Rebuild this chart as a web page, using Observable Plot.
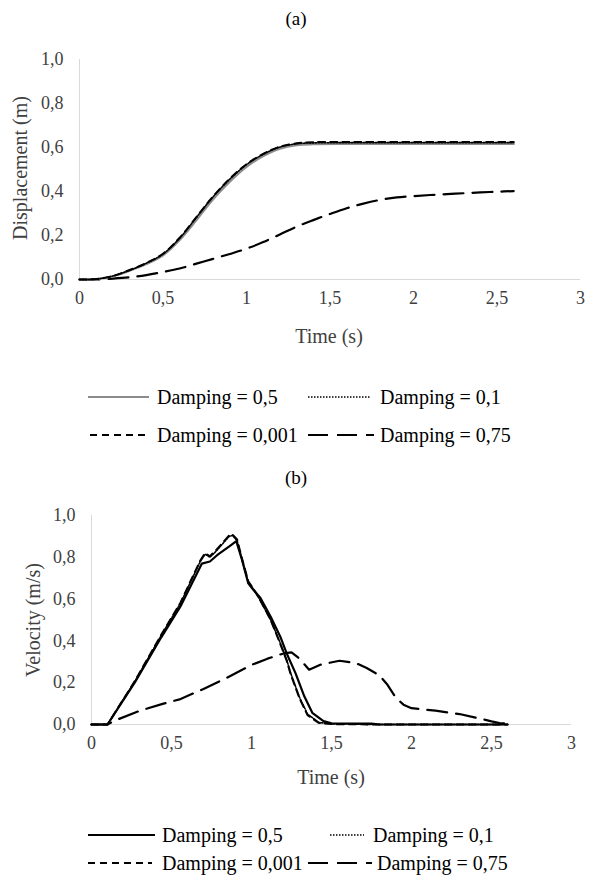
<!DOCTYPE html>
<html>
<head>
<meta charset="utf-8">
<script src="https://cdn.jsdelivr.net/npm/d3@7"></script>
<script src="https://cdn.jsdelivr.net/npm/@observablehq/plot@0.6"></script>
<style>
  html, body { margin: 0; padding: 0; background: #fff; }
  #root { position: relative; width: 598px; height: 882px; background: #fff; font-family: "Liberation Serif", "DejaVu Serif", serif; color: #404040; overflow: hidden; }
  .abs { position: absolute; white-space: nowrap; }
  .ttl { font-size: 19px; color: #000; transform: translate(-50%, -50%); }
  .axt { font-size: 20px; color: #404040; transform: translate(-50%, -50%); }
  .axty { font-size: 20px; color: #404040; transform: translate(-50%, -50%) rotate(-90deg); }
  .leg { font-size: 20px; color: #000; transform: translateY(-50%); }
  svg.sw { position: absolute; overflow: visible; }
  svg text { font-family: "Liberation Serif", "DejaVu Serif", serif; }
</style>
</head>
<body>
<div id="root"></div>
<script>
// ---------- Data ----------
const seriesNames = ["Damping = 0,5", "Damping = 0,1", "Damping = 0,001", "Damping = 0,75"];
const xTicks = [0, 0.5, 1, 1.5, 2, 2.5, 3];
const xTickLabels = ["0", "0,5", "1", "1,5", "2", "2,5", "3"];
const yTicks = [0, 0.2, 0.4, 0.6, 0.8, 1.0];
const yTickLabels = ["0,0", "0,2", "0,4", "0,6", "0,8", "1,0"];

// (a) Displacement (m) vs Time (s)
const dispTime = [0, 0.1, 0.2, 0.3, 0.4, 0.5, 0.6, 0.7, 0.8, 0.9, 1.0, 1.1, 1.2, 1.3, 1.4, 1.6, 1.8, 2.0, 2.2, 2.4, 2.6];
const disp05   = [0, 0.002, 0.015, 0.040, 0.070, 0.110, 0.180, 0.270, 0.365, 0.445, 0.512, 0.561, 0.595, 0.611, 0.615, 0.616, 0.616, 0.616, 0.616, 0.616, 0.616];
const disp01   = [0, 0.002, 0.016, 0.042, 0.074, 0.116, 0.188, 0.282, 0.376, 0.456, 0.522, 0.569, 0.602, 0.617, 0.621, 0.622, 0.622, 0.622, 0.622, 0.622, 0.622];
const disp0001 = [0, 0.002, 0.016, 0.043, 0.075, 0.117, 0.190, 0.284, 0.378, 0.458, 0.524, 0.571, 0.604, 0.619, 0.624, 0.625, 0.625, 0.625, 0.625, 0.625, 0.625];
const dispTime075 = [0, 0.1, 0.2, 0.3, 0.4, 0.5, 0.6, 0.7, 0.8, 0.9, 1.0, 1.1, 1.2, 1.3, 1.4, 1.5, 1.6, 1.7, 1.8, 1.9, 2.0, 2.1, 2.2, 2.3, 2.4, 2.5, 2.6];
const disp075  = [0, 0, 0.004, 0.010, 0.020, 0.034, 0.050, 0.072, 0.094, 0.116, 0.140, 0.170, 0.205, 0.240, 0.270, 0.298, 0.324, 0.345, 0.362, 0.373, 0.379, 0.384, 0.388, 0.392, 0.396, 0.399, 0.402];

// (b) Velocity (m/s) vs Time (s)
const velTime05 = [0, 0.1, 0.27, 0.435, 0.556, 0.69, 0.74, 0.785, 0.87, 0.905, 0.94, 0.98, 1.01, 1.056, 1.12, 1.18, 1.22, 1.275, 1.33, 1.38, 1.45, 1.5, 1.75, 1.8, 2.6];
const vel05     = [0, 0, 0.20, 0.416, 0.565, 0.77, 0.78, 0.81, 0.857, 0.877, 0.79, 0.675, 0.646, 0.605, 0.516, 0.42, 0.34, 0.246, 0.135, 0.056, 0.016, 0.006, 0.004, 0, 0];
const velTime01 = [0, 0.1, 0.27, 0.435, 0.556, 0.68, 0.71, 0.74, 0.78, 0.86, 0.88, 0.91, 0.94, 0.98, 1.01, 1.05, 1.12, 1.18, 1.22, 1.245, 1.3, 1.35, 1.42, 1.5, 1.8, 2.6];
const vel01     = [0, 0, 0.205, 0.425, 0.58, 0.78, 0.815, 0.80, 0.83, 0.90, 0.905, 0.88, 0.79, 0.68, 0.65, 0.60, 0.50, 0.39, 0.31, 0.246, 0.13, 0.05, 0.01, 0.003, 0, 0];
const vel0001   = [0, 0, 0.207, 0.428, 0.583, 0.785, 0.82, 0.805, 0.835, 0.905, 0.91, 0.885, 0.795, 0.685, 0.652, 0.602, 0.50, 0.385, 0.305, 0.24, 0.125, 0.045, 0.008, 0.002, 0, 0];
const velTime075 = [0, 0.1, 0.15, 0.3, 0.45, 0.55, 0.7, 0.85, 1.0, 1.1, 1.2, 1.25, 1.3, 1.36, 1.43, 1.55, 1.65, 1.72, 1.8, 1.85, 1.9, 1.95, 2.0, 2.15, 2.3, 2.4, 2.5, 2.55, 2.6];
const vel075     = [0, 0, 0.02, 0.065, 0.10, 0.12, 0.17, 0.225, 0.285, 0.315, 0.34, 0.345, 0.315, 0.262, 0.286, 0.305, 0.295, 0.27, 0.235, 0.19, 0.13, 0.095, 0.078, 0.066, 0.05, 0.033, 0.015, 0.007, 0.005];

// ---------- Styles ----------
const styleA = [
  {stroke: "#8c8c8c", strokeWidth: 2.2, dash: null},
  {stroke: "#000", strokeWidth: 1.6, dash: "1.5,1.5"},
  {stroke: "#000", strokeWidth: 2, dash: "7,5"},
  {stroke: "#000", strokeWidth: 2.2, dash: "20,9"}
];
const styleB = [
  {stroke: "#000", strokeWidth: 2.2, dash: null},
  {stroke: "#000", strokeWidth: 1.6, dash: "1.5,1.5"},
  {stroke: "#000", strokeWidth: 2, dash: "7,5"},
  {stroke: "#000", strokeWidth: 2.2, dash: "20,9"}
];

const FONT = "'Liberation Serif', 'DejaVu Serif', serif";
const root = document.getElementById("root");
function rows(ts, vs) { return ts.map((t, i) => ({t, v: vs[i]})); }
const fmtX = d => xTickLabels[xTicks.indexOf(d)];
const fmtY = d => yTickLabels[yTicks.findIndex(v => Math.abs(v - d) < 1e-9)];

function makePlot(cfg) {
  const {series, styles, top, height, mL, mR, mT, mB, curve} = cfg;
  const order = [3, 0, 1, 2];
  const lineMarks = order.map(k => Plot.line(series[k], {
    x: "t", y: "v", stroke: styles[k].stroke, strokeWidth: styles[k].strokeWidth,
    strokeDasharray: styles[k].dash || undefined, curve, strokeLinejoin: "round"
  }));
  const p = Plot.plot({
    width: 598, height, marginLeft: mL, marginRight: mR, marginTop: mT, marginBottom: mB,
    style: {fontFamily: FONT, fontSize: "18px", color: "#404040", background: "transparent", overflow: "visible"},
    x: {domain: [0, 3]},
    y: {domain: [0, 1]},
    marks: [
      Plot.ruleX([0], {stroke: "#d9d9d9", strokeWidth: 1}),
      Plot.ruleY([0], {stroke: "#d9d9d9", strokeWidth: 1.2}),
      Plot.axisX({ticks: xTicks, tickFormat: fmtX, tickSize: 0, tickPadding: 12, label: null, fontSize: 18}),
      Plot.axisY({ticks: yTicks, tickFormat: fmtY, tickSize: 0, tickPadding: 16, label: null, fontSize: 18}),
      ...lineMarks
    ]
  });
  p.style.position = "absolute";
  p.style.left = "0px";
  p.style.top = top + "px";
  p.style.fontFamily = FONT;
  root.appendChild(p);
}

function addText(cls, text, x, y) {
  const d = document.createElement("div");
  d.className = "abs " + cls;
  d.textContent = text;
  d.style.left = x + "px";
  d.style.top = y + "px";
  d.style.fontFamily = FONT;
  root.appendChild(d);
}

function addLegendItem(style, x1, x2, y, text, tx) {
  const ns = "http://www.w3.org/2000/svg";
  const s = document.createElementNS(ns, "svg");
  s.setAttribute("class", "sw");
  s.setAttribute("width", x2 - x1);
  s.setAttribute("height", 10);
  s.style.left = x1 + "px";
  s.style.top = (y - 5) + "px";
  const l = document.createElementNS(ns, "line");
  l.setAttribute("x1", 0); l.setAttribute("x2", x2 - x1);
  l.setAttribute("y1", 5); l.setAttribute("y2", 5);
  l.setAttribute("stroke", style.stroke);
  l.setAttribute("stroke-width", style.strokeWidth);
  if (style.dash) l.setAttribute("stroke-dasharray", style.dash);
  s.appendChild(l);
  root.appendChild(s);
  addText("leg", text, tx, y);
}

// ---------- Panel (a) ----------
addText("ttl", "(a)", 296, 19);
makePlot({
  series: [rows(dispTime, disp05), rows(dispTime, disp01), rows(dispTime, disp0001), rows(dispTime075, disp075)],
  styles: styleA, top: 0, height: 330, mL: 79, mR: 18, mT: 59, mB: 51, curve: "catmull-rom"
});
addText("axty", "Displacement (m)", 20, 168);
addText("axt", "Time (s)", 329, 336);
addLegendItem(styleA[0], 88, 149, 397, seriesNames[0], 157);
addLegendItem(styleA[1], 308, 370, 397, seriesNames[1], 380);
addLegendItem(styleA[2], 90, 145, 435, seriesNames[2], 157);
addLegendItem(styleA[3], 308, 374, 435, seriesNames[3], 380);

// ---------- Panel (b) ----------
addText("ttl", "(b)", 296, 478);
makePlot({
  series: [rows(velTime05, vel05), rows(velTime01, vel01), rows(velTime01, vel0001), rows(velTime075, vel075)],
  styles: styleB, top: 460, height: 300, mL: 91, mR: 27, mT: 55, mB: 36, curve: "linear"
});
addText("axty", "Velocity (m/s)", 33, 620);
addText("axt", "Time (s)", 331, 777);
addLegendItem(styleB[0], 88, 155, 835, seriesNames[0], 162);
addLegendItem(styleB[1], 330, 364, 835, seriesNames[1], 373);
addLegendItem(styleB[2], 88, 152, 863, seriesNames[2], 162);
addLegendItem(styleB[3], 308, 372, 863, seriesNames[3], 377);
</script>
</body>
</html>
